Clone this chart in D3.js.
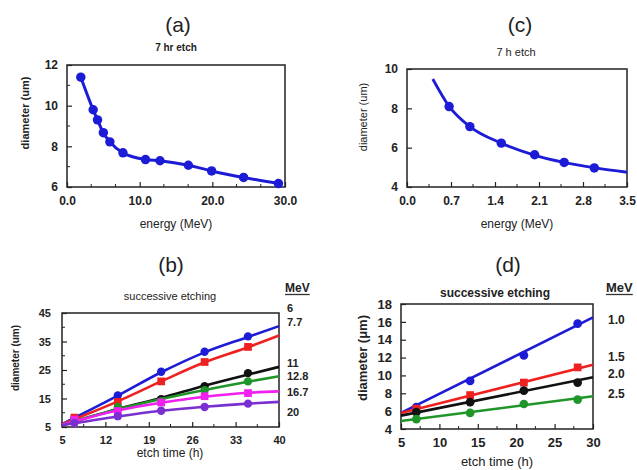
<!DOCTYPE html>
<html>
<head>
<meta charset="utf-8">
<script src="https://cdn.jsdelivr.net/npm/d3@7"></script>
<style>
  body { margin: 0; background: #fff; }
  text { font-family: "Liberation Sans", Arial, sans-serif; fill: #222; }
</style>
</head>
<body>
<svg id="viz" width="637" height="470"></svg>
<script>
// ---- data ----
// (a) 7 hr etch, diameter vs energy
var aEnergy = [1.9, 3.6, 4.2, 5.0, 5.9, 7.7, 10.8, 12.8, 16.7, 19.9, 24.3, 29.1];
var aDiam   = [11.4, 9.8, 9.3, 8.67, 8.22, 7.68, 7.35, 7.29, 7.07, 6.79, 6.47, 6.17];

// (c) 7 h etch, low energies
var cEnergy = [0.67, 1.0, 1.5, 2.03, 2.5, 2.98];
var cDiam   = [8.09, 7.07, 6.23, 5.64, 5.25, 4.97];
var cFitE   = [0.41, 0.67, 1.0, 1.5, 2.0, 2.5, 3.0, 3.5];
var cFitD   = [9.49, 8.1, 7.07, 6.23, 5.65, 5.25, 4.97, 4.75];

// (b) successive etching, 6..20 MeV
var bTimes  = [7, 14, 21, 28, 35];
var bLabels = ["6", "7.7", "11", "12.8", "16.7", "20"];
var bValues = [
  [8.0, 16.1, 24.4, 31.4, 36.8],
  [8.3, 13.8, 21.0, 27.8, 33.1],
  [7.0, 11.1, 14.8, 19.3, 23.9],
  [7.2, 12.0, 14.0, 17.9, 21.0],
  [7.6, 10.6, 13.6, 15.8, 16.9],
  [6.4, 8.8, 10.7, 12.0, 13.2]
];
var bFitT = [5, 14, 21, 28, 35, 40];
var bFits = [
  [6.0, 16.0, 24.2, 31.2, 36.6, 40.4],
  [6.0, 14.0, 21.0, 27.7, 33.0, 37.1],
  [5.6, 11.3, 15.2, 19.5, 23.4, 26.1],
  [5.8, 11.2, 14.8, 18.0, 20.9, 22.8],
  [5.8, 10.8, 13.5, 15.6, 17.0, 17.5],
  [5.6, 8.7, 10.7, 12.1, 13.2, 13.8]
];

// (d) successive etching, 1.0..2.5 MeV
var dTimes  = [7, 14, 21, 28];
var dLabels = ["1.0", "1.5", "2.0", "2.5"];
var dValues = [
  [6.46, 9.4, 12.25, 15.8],
  [6.28, 7.8, 9.2, 10.9],
  [5.9, 7.0, 8.3, 9.2],
  [5.1, 5.8, 6.8, 7.3]
];
var dFitT = [5, 30];
var dFits = [
  [5.8, 16.5],
  [5.8, 11.2],
  [5.5, 9.8],
  [4.9, 7.66]
];

var svg = d3.select("#viz");
var blue = "#1c1cd6";

function panel(o) {
  var g = svg.append("g");
  var x = d3.scaleLinear().domain(o.xDom).range([o.x0, o.x1]);
  var y = d3.scaleLinear().domain(o.yDom).range([o.y1, o.y0]);

  // minor ticks
  g.selectAll(".mx").data(o.xMinor || []).enter().append("line")
    .attr("x1", function (d) { return x(d); }).attr("x2", function (d) { return x(d); })
    .attr("y1", o.y1).attr("y2", o.y1 - 3).attr("stroke", "#222").attr("stroke-width", 1);
  g.selectAll(".my").data(o.yMinor || []).enter().append("line")
    .attr("y1", function (d) { return y(d); }).attr("y2", function (d) { return y(d); })
    .attr("x1", o.x0).attr("x2", o.x0 + 3).attr("stroke", "#222").attr("stroke-width", 1);

  // major ticks via axes (inward)
  var xa = d3.axisBottom(x).tickValues(o.xTicks).tickSizeInner(-5).tickSizeOuter(0)
    .tickPadding(9).tickFormat(o.xFmt);
  var ya = d3.axisLeft(y).tickValues(o.yTicks).tickSizeInner(-5).tickSizeOuter(0)
    .tickPadding(o.yPad || 9).tickFormat(d3.format("d"));
  var gx = g.append("g").attr("transform", "translate(0," + o.y1 + ")").call(xa);
  var gy = g.append("g").attr("transform", "translate(" + o.x0 + ",0)").call(ya);
  [gx, gy].forEach(function (ax) {
    ax.select(".domain").remove();
    ax.selectAll("line").attr("stroke", "#222").attr("stroke-width", 1.2);
    ax.selectAll("text").style("font-family", "Liberation Sans, Arial, sans-serif")
      .style("font-size", o.tickSize + "px").style("font-weight", "bold").attr("fill", "#333");
  });

  // frame
  g.append("rect").attr("x", o.x0).attr("y", o.y0)
    .attr("width", o.x1 - o.x0).attr("height", o.y1 - o.y0)
    .attr("fill", "none").attr("stroke", "#222").attr("stroke-width", 1.5);

  g.append("text").attr("x", o.tagX).attr("y", o.tagY).attr("text-anchor", "middle")
    .style("font-size", "21px").text(o.tag);
  g.append("text").attr("x", o.subX).attr("y", o.subY).attr("text-anchor", "middle")
    .style("font-size", o.subSize + "px").style("font-weight", o.subBold ? "bold" : "normal")
    .attr("fill", "#333").text(o.sub);
  g.append("text").attr("x", o.xlX).attr("y", o.xlY).attr("text-anchor", "middle")
    .style("font-size", o.xlSize + "px").attr("fill", "#333").text(o.xLabel);
  g.append("text").attr("transform", "translate(" + o.ylX + "," + o.ylY + ") rotate(-90)")
    .attr("text-anchor", "middle").attr("dy", "0.35em")
    .style("font-size", o.ylSize + "px").style("font-weight", o.ylBold ? "bold" : "normal")
    .attr("fill", "#333").text(o.yLabel);

  var line = d3.line().x(function (d) { return x(d[0]); }).y(function (d) { return y(d[1]); })
    .curve(d3.curveMonotoneX);
  var plot = g.append("g");
  o.series.forEach(function (s) {
    plot.append("path").datum(s.fit).attr("d", line).attr("fill", "none")
      .attr("stroke", s.color).attr("stroke-width", o.lw || 2.6);
    var sym = d3.symbol().type(s.square ? d3.symbolSquare : d3.symbolCircle).size(s.size || 60);
    plot.selectAll(null).data(s.pts).enter().append("path")
      .attr("d", sym)
      .attr("transform", function (d) { return "translate(" + x(d[0]) + "," + y(d[1]) + ")"; })
      .attr("fill", s.color);
  });
  return g;
}

function zip(a, b) { return a.map(function (v, i) { return [v, b[i]]; }); }
function range(a, b, s) { return d3.range(a, b + s / 2, s); }

// (a)
panel({
  x0: 67, x1: 285, y0: 65, y1: 187, xDom: [0, 30], yDom: [6, 12],
  xTicks: [0, 10, 20, 30], xMinor: [10/3, 20/3, 40/3, 50/3, 70/3, 80/3], xFmt: d3.format(".1f"),
  yTicks: [6, 8, 10, 12], yMinor: [7, 9, 11], tickSize: 12, lw: 3,
  tag: "(a)", tagX: 178, tagY: 32, sub: "7 hr etch", subX: 176, subY: 51, subSize: 10, subBold: true,
  xLabel: "energy (MeV)", xlX: 176, xlY: 228, xlSize: 12,
  yLabel: "diameter (um)", ylX: 25, ylY: 113, ylSize: 11, ylBold: true,
  series: [{ color: blue, fit: zip(aEnergy, aDiam), pts: zip(aEnergy, aDiam), size: 70 }]
});

// (c)
panel({
  x0: 407, x1: 627, y0: 69, y1: 187, xDom: [0, 3.5], yDom: [4, 10],
  xTicks: range(0, 3.5, 0.7), xMinor: range(0.35, 3.15, 0.7), xFmt: d3.format(".1f"),
  yTicks: [4, 6, 8, 10], yMinor: [], tickSize: 12, lw: 2.8,
  tag: "(c)", tagX: 520, tagY: 32, sub: "7 h etch", subX: 516, subY: 56, subSize: 11, subBold: false,
  xLabel: "energy (MeV)", xlX: 517, xlY: 228, xlSize: 12,
  yLabel: "diameter (um)", ylX: 363, ylY: 117, ylSize: 11, ylBold: false,
  series: [{ color: blue, fit: zip(cFitE, cFitD), pts: zip(cEnergy, cDiam), size: 70 }]
});

var bColors = ["#1c1cd6", "#ee2020", "#111111", "#20962a", "#f020f0", "#7a2fd0"];
var bSquare = [false, true, false, false, true, false];
panel({
  x0: 62, x1: 279, y0: 313, y1: 427, xDom: [5, 40], yDom: [5, 45],
  xTicks: range(5, 40, 7), xMinor: range(8.5, 36.5, 7), xFmt: d3.format("d"),
  yTicks: [5, 15, 25, 35, 45], yMinor: [10, 20, 30, 40], tickSize: 11, yPad: 11,
  tag: "(b)", tagX: 171, tagY: 272, sub: "successive etching", subX: 170, subY: 300, subSize: 11, subBold: false,
  xLabel: "etch time (h)", xlX: 170, xlY: 457, xlSize: 12,
  yLabel: "diameter (um)", ylX: 15, ylY: 358, ylSize: 10, ylBold: true,
  series: bValues.map(function (v, i) {
    return { color: bColors[i], square: bSquare[i], fit: zip(bFitT, bFits[i]), pts: zip(bTimes, v),
      size: bSquare[i] ? 60 : 55 };
  })
});

var dColors = ["#1c1cd6", "#ee2020", "#111111", "#20962a"];
var dSquare = [false, true, false, false];
panel({
  x0: 401, x1: 593, y0: 304, y1: 429, xDom: [5, 30], yDom: [4, 18],
  xTicks: range(5, 30, 5), xMinor: range(7.5, 27.5, 5), xFmt: d3.format("d"),
  yTicks: range(4, 18, 2), yMinor: [], tickSize: 13,
  tag: "(d)", tagX: 508, tagY: 272, sub: "successive etching", subX: 495, subY: 297, subSize: 12, subBold: true,
  xLabel: "etch time (h)", xlX: 497, xlY: 466, xlSize: 13,
  yLabel: "diameter (\u03bcm)", ylX: 362, ylY: 358, ylSize: 13, ylBold: true,
  series: dValues.map(function (v, i) {
    return { color: dColors[i], square: dSquare[i], fit: zip(dFitT, dFits[i]), pts: zip(dTimes, v), size: 60 };
  })
});

// MeV legends
function legend(x, headY, labels, ys, size) {
  var g = svg.append("g");
  var h = g.append("text").attr("x", x).attr("y", headY).style("font-size", (size + 1) + "px")
    .style("font-weight", "bold").attr("fill", "#333").text("MeV");
  var w = h.node().getComputedTextLength();
  g.append("line").attr("x1", x).attr("x2", x + w).attr("y1", headY + 2.5).attr("y2", headY + 2.5)
    .attr("stroke", "#333").attr("stroke-width", 1.3);
  g.selectAll(null).data(labels).enter().append("text")
    .attr("x", x + 2).attr("y", function (d, i) { return ys[i]; }).attr("dy", "0.35em")
    .style("font-size", size + "px").style("font-weight", "bold").attr("fill", "#333")
    .text(function (d) { return d; });
}
legend(285, 292, bLabels, [308, 322, 363, 376, 392, 412], 11);
legend(606, 292, dLabels, [320, 357, 374, 394], 12);
</script>
</body>
</html>
